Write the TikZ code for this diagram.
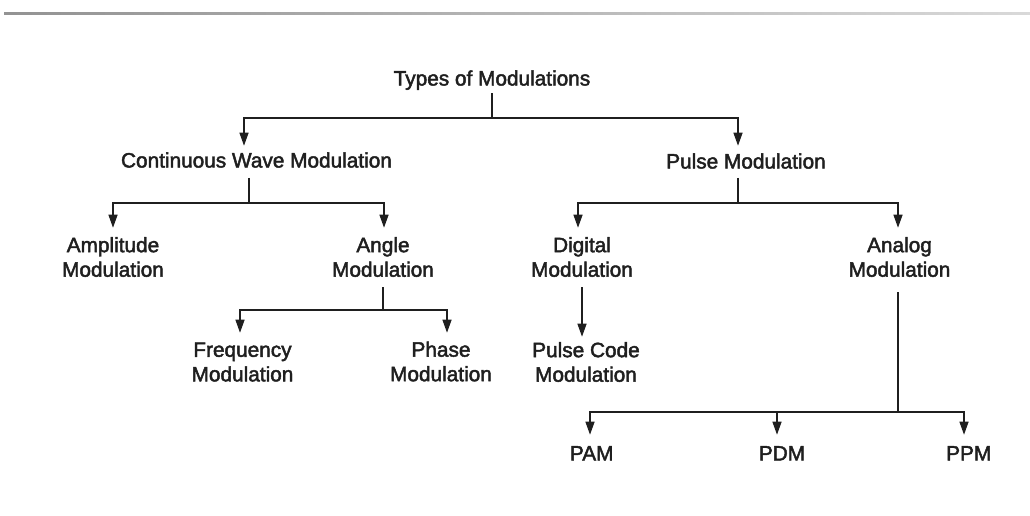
\documentclass[tikz,border=0pt]{standalone}
\usepackage{fontspec}
\setmainfont{Liberation Sans}
\newfontfamily\lblfont{Liberation Sans}[RawFeature={embolden=2.2}]
\usetikzlibrary{arrows.meta}
\begin{document}
\begin{tikzpicture}[x=0.75pt,y=-0.75pt,
  lbl/.style={font=\lblfont\fontsize{15.6}{18.4}\selectfont, text=black!88, inner sep=0pt, align=center},
  wire/.style={line width=1.8pt, draw=black!88},
  arr/.style={wire, -{Triangle[width=6.5pt,length=10pt]}}]
\useasboundingbox (0,0) rectangle (1030,515);
% rule along the top edge
\shade[left color=gray!85, right color=gray!30] (4,12) rectangle (1030,14.2);

% labels
\node[lbl,anchor=base] (types) at (492,85.5) {Types of Modulations};
\node[lbl,anchor=base] (cw) at (256.5,167.5) {Continuous Wave Modulation};
\node[lbl,anchor=base] (pulse) at (746,168.5) {Pulse Modulation};
\node[lbl] (am) at (113,257) {Amplitude\\Modulation};
\node[lbl] (angle) at (383,257) {Angle\\Modulation};
\node[lbl] (digital) at (582,257) {Digital\\Modulation};
\node[lbl] (analog) at (899.5,257) {Analog\\Modulation};
\node[lbl] (fm) at (242.5,362) {Frequency\\Modulation};
\node[lbl] (pm) at (441,361.5) {Phase\\Modulation};
\node[lbl] (pcm) at (586,362) {Pulse Code\\Modulation};
\node[lbl,anchor=base] (pam) at (591.7,460.5) {PAM};
\node[lbl,anchor=base] (pdm) at (782,460.5) {PDM};
\node[lbl,anchor=base] (ppm) at (968.7,460.5) {PPM};

% junctions and arrow tips
\coordinate (j0) at (492,118);
\coordinate (cw-in) at (244,146);
\coordinate (pulse-in) at (738,146);
\coordinate (j1) at (249,203);
\coordinate (am-in) at (113,228);
\coordinate (angle-in) at (384,228);
\coordinate (j2) at (383,310);
\coordinate (fm-in) at (240,333);
\coordinate (pm-in) at (447,333);
\coordinate (j3) at (738,203);
\coordinate (digital-in) at (578,228);
\coordinate (analog-in) at (898,228);
\coordinate (pcm-in) at (582,337);
\coordinate (j4) at (898,412);
\coordinate (pam-in) at (590,435);
\coordinate (pdm-in) at (777,435);
\coordinate (ppm-in) at (964,435);

% root
\draw[wire] (j0 |- types.south) ++(0,3) -- (j0);
\draw[arr] (j0) -| (cw-in);
\draw[arr] (j0) -| (pulse-in);

% continuous wave branch
\draw[wire] (j1 |- cw.south) ++(0,10) -- (j1);
\draw[arr] (j1) -| (am-in);
\draw[arr] (j1) -| (angle-in);
\draw[wire] (j2 |- angle.south) ++(0,10) -- (j2);
\draw[arr] (j2) -| (fm-in);
\draw[arr] (j2) -| (pm-in);

% pulse branch
\draw[wire] (j3 |- pulse.south) ++(0,9) -- (j3);
\draw[arr] (j3) -| (digital-in);
\draw[arr] (j3) -| (analog-in);
\draw[arr] (pcm-in |- digital.south) ++(0,10) -- (pcm-in);
\draw[wire] (j4 |- analog.south) ++(0,15) -- (j4);
\draw[arr] (j4) -| (pam-in);
\draw[arr] (j4) -| (pdm-in);
\draw[arr] (j4) -| (ppm-in);
\end{tikzpicture}
\end{document}
